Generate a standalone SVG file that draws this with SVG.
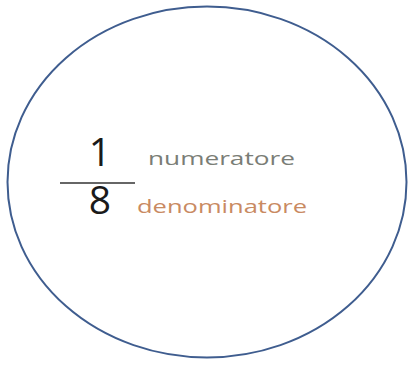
<svg xmlns="http://www.w3.org/2000/svg" width="409" height="365" viewBox="0 0 409 365">
<style>
.num{font-family:"Open Sans","Liberation Sans",sans-serif;font-size:39px;fill:#1a1a1a}
.lbl{font-family:"Open Sans","Liberation Sans",sans-serif;font-size:19px}
</style>
<rect width="409" height="365" fill="#ffffff"/>
<g id="circle">
<ellipse cx="207" cy="182" rx="199.5" ry="175.5" fill="none" stroke="#3f5d8f" stroke-width="2"/>
</g>
<g id="fraction">
<text class="num" x="100" y="166" text-anchor="middle">1</text>
<line x1="60" y1="183" x2="135" y2="183" stroke="#333" stroke-width="1.3"/>
<text class="num" x="100" y="214" text-anchor="middle">8</text>
</g>
<g id="labels">
<text class="lbl" x="148" y="165" fill="#7a7d76" textLength="147" lengthAdjust="spacingAndGlyphs">numeratore</text>
<text class="lbl" x="137" y="213" fill="#c98a62" textLength="170" lengthAdjust="spacingAndGlyphs">denominatore</text>
</g>
</svg>
